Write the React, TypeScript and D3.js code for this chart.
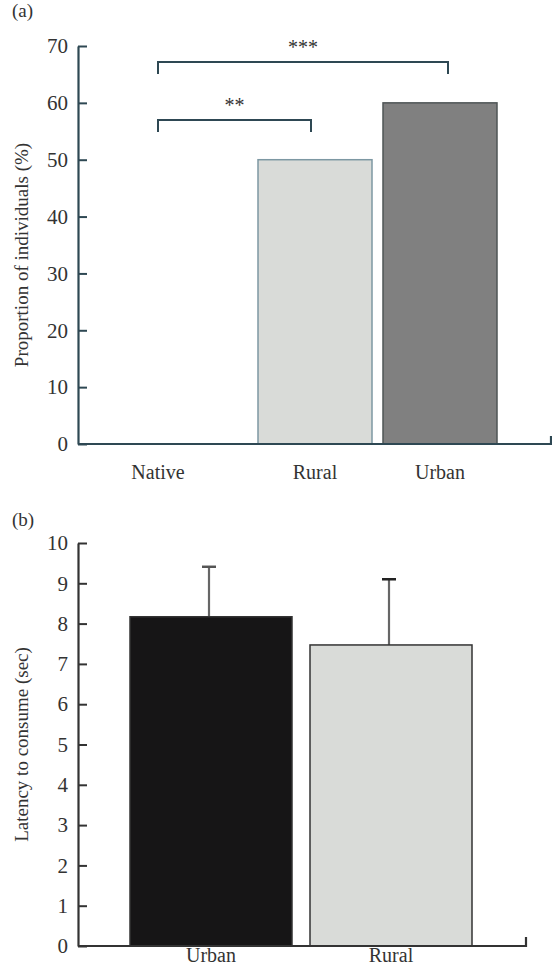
import { useEffect, useRef } from 'react';
import * as d3 from 'd3';

// Panel (a): proportion of individuals
const groupsA = ['Native', 'Rural', 'Urban'];
const proportionA = [0, 50, 60];
const fillsA = ['#ffffff', '#d9dbd8', '#808080'];
const strokesA = ['none', '#7d98a3', '#4f5556'];
const ticksA = [0, 10, 20, 30, 40, 50, 60, 70];
const bracketsA = [
  { from: 'Native', to: 'Rural', level: 57, label: '**' },
  { from: 'Native', to: 'Urban', level: 67.2, label: '***' },
];

// Panel (b): latency to consume
const groupsB = ['Urban', 'Rural'];
const latencyB = [8.17, 7.47];
const errorB = [1.24, 1.63];
const fillsB = ['#161516', '#d9dbd8'];
const ticksB = [0, 1, 2, 3, 4, 5, 6, 7, 8, 9, 10];

const FONT = '"Liberation Serif", "DejaVu Serif", serif';

export default function App() {
  const svgRef = useRef<SVGSVGElement>(null);

  useEffect(() => {
    if (!svgRef.current) return;
    const svg = d3.select(svgRef.current);
    svg.selectAll('*').remove();

    // ---------- panel (a) ----------
    const axA = 78;
    const rightA = 551;
    const y = d3.scaleLinear().domain([0, 70]).range([444, 46]);
    // category centres are not evenly spaced in the original
    const xIdx = d3.scaleLinear().domain([0, 1, 2]).range([158, 315, 440]);
    const xA = (c: string) => xIdx(groupsA.indexOf(c));
    const barW = 114;

    const gA = svg.append('g');

    gA.append('text')
      .attr('x', 12).attr('y', 17)
      .attr('font-size', 19)
      .attr('fill', '#333')
      .text('(a)');

    gA.selectAll('rect.bar')
      .data(groupsA)
      .enter()
      .append('rect')
      .attr('class', 'bar')
      .attr('x', d => xA(d) - barW / 2)
      .attr('y', (d, i) => y(proportionA[i]))
      .attr('width', barW)
      .attr('height', (d, i) => y(0) - y(proportionA[i]))
      .attr('fill', (d, i) => fillsA[i])
      .attr('stroke', (d, i) => strokesA[i])
      .attr('stroke-width', 1.5);

    const yAxisA = gA.append('g')
      .attr('transform', `translate(${axA},0)`)
      .call(d3.axisLeft(y).tickValues(ticksA).tickSize(-9).tickSizeOuter(0).tickPadding(10));
    yAxisA.select('.domain').attr('stroke', '#2e4853').attr('stroke-width', 2.2);
    yAxisA.selectAll('.tick line').attr('stroke', '#2e4853').attr('stroke-width', 2);
    yAxisA.selectAll('.tick text')
      .attr('font-family', FONT).attr('font-size', 21).attr('fill', '#333');

    gA.append('path')
      .attr('d', `M${axA},${y(0)}H${rightA}V${y(0) - 8}`)
      .attr('fill', 'none')
      .attr('stroke', '#2e4853')
      .attr('stroke-width', 2.2);

    gA.selectAll('text.cat')
      .data(groupsA)
      .enter()
      .append('text')
      .attr('class', 'cat')
      .attr('x', d => xA(d))
      .attr('y', 479)
      .attr('text-anchor', 'middle')
      .attr('font-size', 20)
      .attr('fill', '#333')
      .text(d => d);

    gA.append('text')
      .attr('transform', `translate(28,${(y(0) + y(70)) / 2 + 10}) rotate(-90)`)
      .attr('text-anchor', 'middle')
      .attr('font-size', 19)
      .attr('fill', '#333')
      .text('Proportion of individuals (%)');

    // significance brackets
    bracketsA.forEach(b => {
      const x0 = xA(b.from);
      const x1 = b.to === 'Urban' ? xA(b.to) + 8 : xA(b.to) - 4;
      const yy = y(b.level);
      gA.append('path')
        .attr('d', `M${x0},${yy + 12}V${yy}H${x1}V${yy + 12}`)
        .attr('fill', 'none')
        .attr('stroke', '#2e4853')
        .attr('stroke-width', 2);
      gA.append('text')
        .attr('x', (x0 + x1) / 2)
        .attr('y', yy - 8)
        .attr('text-anchor', 'middle')
        .attr('font-size', 20)
        .attr('fill', '#333')
        .text(b.label);
    });

    // ---------- panel (b) ----------
    const axB = 78;
    const rightB = 526;
    const yB = d3.scaleLinear().domain([0, 10]).range([946, 543]);
    const xB = d3.scaleBand().domain(groupsB).range([130, 472]).paddingInner(0.1).paddingOuter(0);

    const gB = svg.append('g');

    gB.append('text')
      .attr('x', 12).attr('y', 526)
      .attr('font-size', 19)
      .attr('fill', '#333')
      .text('(b)');

    // error bars (upper only)
    const ex = (d: string) => (xB(d) || 0) + xB.bandwidth() / 2 - 2;
    gB.selectAll('line.err')
      .data(groupsB)
      .enter()
      .append('line')
      .attr('class', 'err')
      .attr('x1', d => ex(d))
      .attr('x2', d => ex(d))
      .attr('y1', (d, i) => yB(latencyB[i]))
      .attr('y2', (d, i) => yB(latencyB[i] + errorB[i]))
      .attr('stroke', '#666')
      .attr('stroke-width', 2.2);
    gB.selectAll('line.cap')
      .data(groupsB)
      .enter()
      .append('line')
      .attr('class', 'cap')
      .attr('x1', d => ex(d) - 7)
      .attr('x2', d => ex(d) + 7)
      .attr('y1', (d, i) => yB(latencyB[i] + errorB[i]))
      .attr('y2', (d, i) => yB(latencyB[i] + errorB[i]))
      .attr('stroke', (d, i) => (i === 0 ? '#555' : '#222'))
      .attr('stroke-width', 2.5);

    gB.selectAll('rect.bar')
      .data(groupsB)
      .enter()
      .append('rect')
      .attr('class', 'bar')
      .attr('x', d => xB(d) || 0)
      .attr('y', (d, i) => yB(latencyB[i]))
      .attr('width', xB.bandwidth())
      .attr('height', (d, i) => yB(0) - yB(latencyB[i]))
      .attr('fill', (d, i) => fillsB[i])
      .attr('stroke', '#333')
      .attr('stroke-width', 1.5);

    const yAxisB = gB.append('g')
      .attr('transform', `translate(${axB},0)`)
      .call(d3.axisLeft(yB).tickValues(ticksB).tickSize(-9).tickSizeOuter(0).tickPadding(10));
    yAxisB.select('.domain').attr('stroke', '#333').attr('stroke-width', 2.2);
    yAxisB.selectAll('.tick line').attr('stroke', '#333').attr('stroke-width', 2);
    yAxisB.selectAll('.tick text')
      .attr('font-family', FONT).attr('font-size', 21).attr('fill', '#333');

    gB.append('path')
      .attr('d', `M${axB},${yB(0)}H${rightB}V${yB(0) - 9}`)
      .attr('fill', 'none')
      .attr('stroke', '#333')
      .attr('stroke-width', 2.2);

    gB.selectAll('text.cat')
      .data(groupsB)
      .enter()
      .append('text')
      .attr('class', 'cat')
      .attr('x', d => (xB(d) || 0) + xB.bandwidth() / 2)
      .attr('y', 962)
      .attr('text-anchor', 'middle')
      .attr('font-size', 20)
      .attr('fill', '#333')
      .text(d => d);

    gB.append('text')
      .attr('transform', `translate(28,${(yB(0) + yB(10)) / 2}) rotate(-90)`)
      .attr('text-anchor', 'middle')
      .attr('font-size', 19)
      .attr('fill', '#333')
      .text('Latency to consume (sec)');
  }, []);

  return (
    <svg
      ref={svgRef}
      width={552}
      height={965}
      style={{ position: 'absolute', left: 0, top: 0, background: '#fff', fontFamily: FONT }}
    />
  );
}
